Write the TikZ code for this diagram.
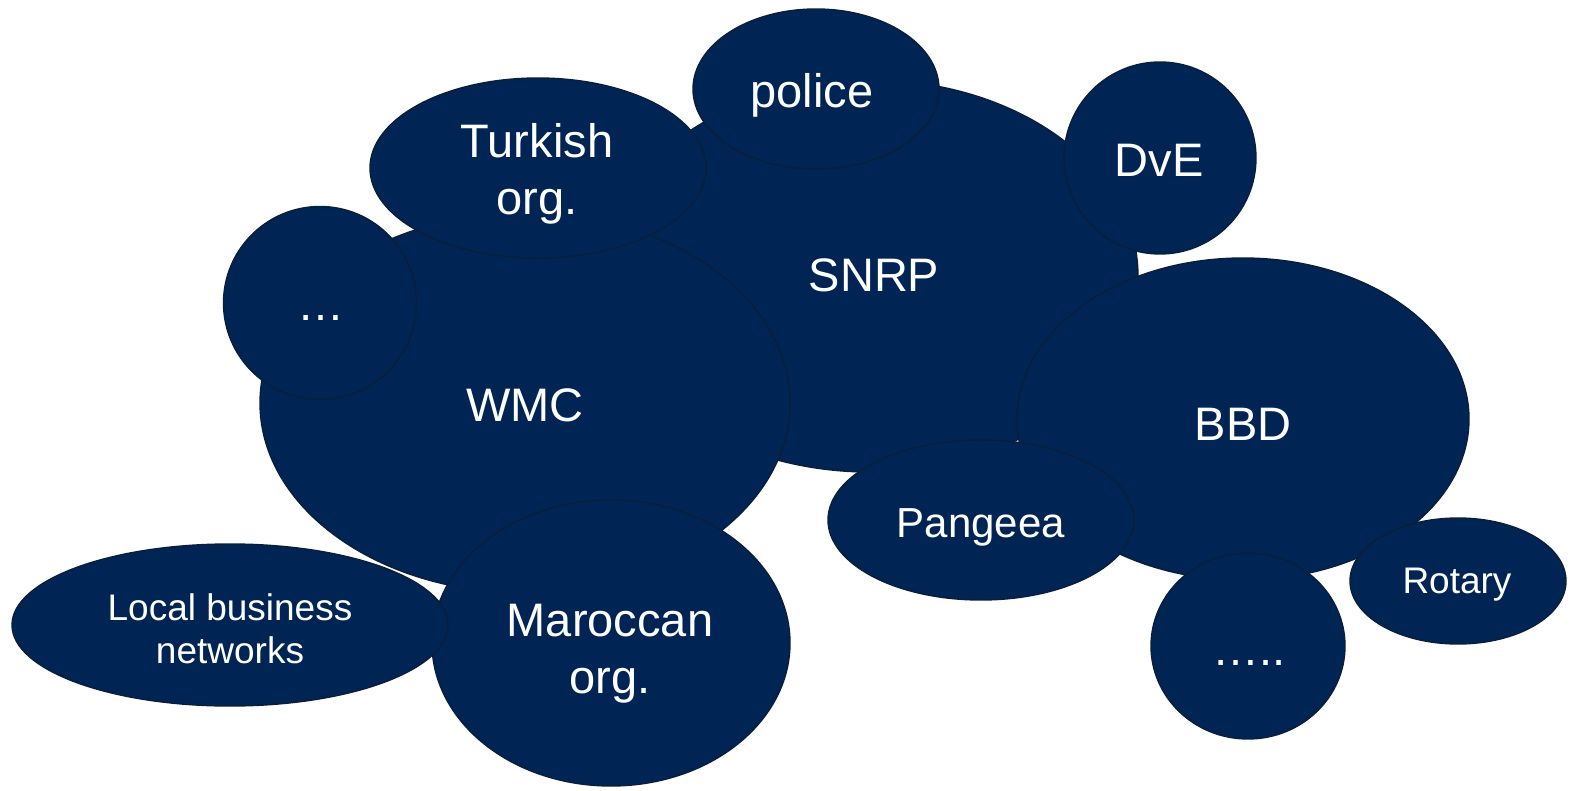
\documentclass[tikz,border=0pt]{standalone}
\usepackage{fontspec}
\setmainfont{Liberation Sans}
\usetikzlibrary{shapes.geometric}
\definecolor{navy}{RGB}{0,37,84}
\definecolor{navyline}{RGB}{10,30,60}
\tikzset{
  blob/.style={ellipse, fill=navy, draw=navyline, line width=0.7pt, inner sep=0pt},
  blobtext/.style={text=white, align=center, anchor=base, inner sep=0pt,
    font=\fontsize{23.5}{28.5}\selectfont},
  midtext/.style={blobtext, font=\fontsize{21}{25}\selectfont},
  smalltext/.style={blobtext, font=\fontsize{18.5}{21.5}\selectfont}
}
\begin{document}
\begin{tikzpicture}[x=0.5pt,y=-0.5pt]
\useasboundingbox (0,0) rectangle (1575,791);
% the shapes, back to front
\node[blob, minimum width=268pt, minimum height=196pt] (snrp) at (870,276) {};
\node[blob, minimum width=265pt, minimum height=190pt] (wmc) at (525,403) {};
\node[blob, minimum width=168pt, minimum height=90pt] (turkish) at (538,168) {};
\node[blob, minimum width=123pt, minimum height=80pt] (police) at (816,89) {};
\node[blob, minimum width=96pt, minimum height=96pt] (dve) at (1160,158) {};
\node[blob, minimum width=96.5pt, minimum height=96.5pt] (dots) at (320,303) {};
\node[blob, minimum width=226pt, minimum height=161pt] (bbd) at (1243,419) {};
\node[blob, minimum width=153pt, minimum height=80pt] (pangeea) at (981,520) {};
\node[blob, minimum width=97pt, minimum height=93pt] (moredots) at (1248,646) {};
\node[blob, minimum width=108pt, minimum height=63pt] (rotary) at (1458,581) {};
\node[blob, minimum width=179pt, minimum height=143pt] (maroccan) at (611,643) {};
\node[blob, minimum width=218pt, minimum height=81pt] (local) at (230,625) {};
% the texts, on their (last) baselines
\node[blobtext] (snrptext) at (874,292) {SNRP};
\node[blobtext] (wmctext) at (525,422) {WMC};
\node[blobtext] (turkishtext) at (537,215) {Turkish\\org.};
\node[blobtext] (policetext) at (812,108) {police};
\node[blobtext] (dvetext) at (1159,177) {DvE};
\node[blobtext] (dotstext) at (321,321) {…};
\node[blobtext] (bbdtext) at (1243,440) {BBD};
\node[midtext] (pangeeatext) at (981,537) {Pangeea};
\node[blobtext] (moredotstext) at (1249,665) {…..};
\node[smalltext] (rotarytext) at (1457,593) {Rotary};
\node[blobtext] (maroccantext) at (610,693) {Maroccan\\org.};
\node[smalltext] (localtext) at (230,663) {Local business\\networks};
\end{tikzpicture}
\end{document}
